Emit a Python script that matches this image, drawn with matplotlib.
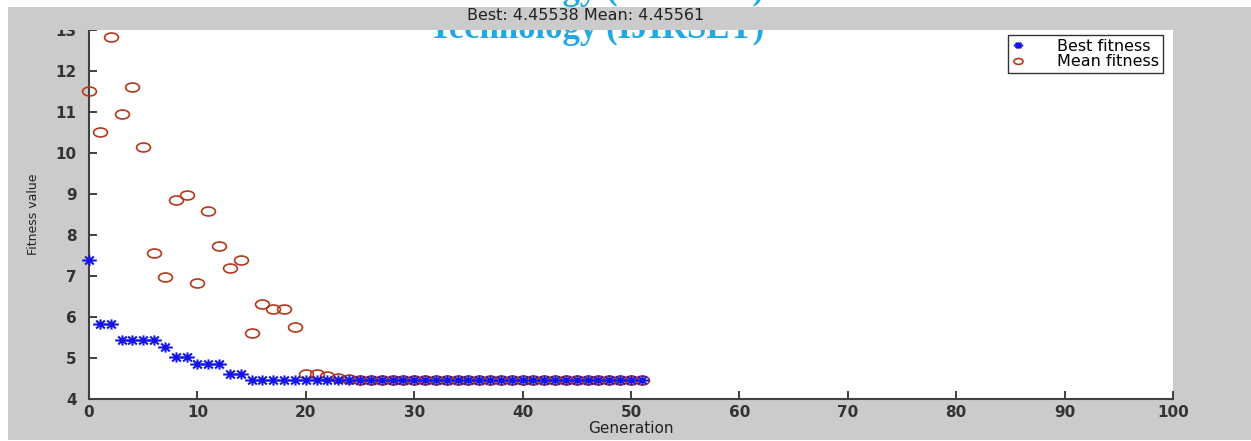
import matplotlib
matplotlib.use("Agg")
import matplotlib.pyplot as plt
from matplotlib.patches import Rectangle
from matplotlib.path import Path
from matplotlib.transforms import Affine2D
import numpy as np

# GA run: best and mean fitness per generation
generations = np.arange(52)
best_fitness = [
    7.38, 5.82, 5.82, 5.44, 5.44, 5.44, 5.43, 5.28, 5.02, 5.02,
    4.85, 4.85, 4.85, 4.62, 4.62, 4.47, 4.47, 4.47, 4.47, 4.47,
    4.47, 4.47, 4.46, 4.46, 4.46, 4.46, 4.46, 4.46, 4.46, 4.46,
    4.46, 4.46, 4.46, 4.46, 4.46, 4.46, 4.46, 4.46, 4.46, 4.46,
    4.46, 4.456, 4.456, 4.456, 4.456, 4.456, 4.456, 4.456, 4.456, 4.455,
    4.455, 4.455,
]
mean_fitness = [
    11.52, 10.51, 12.82, 10.94, 11.62, 10.14, 7.57, 6.97, 8.85, 8.98,
    6.82, 8.58, 7.73, 7.20, 7.40, 5.61, 6.32, 6.20, 6.20, 5.75,
    4.62, 4.60, 4.56, 4.52, 4.48, 4.47, 4.47, 4.47, 4.47, 4.47,
    4.47, 4.47, 4.47, 4.47, 4.47, 4.47, 4.47, 4.47, 4.47, 4.47,
    4.47, 4.46, 4.46, 4.46, 4.46, 4.46, 4.46, 4.46, 4.46, 4.456,
    4.456, 4.456,
]
title_text = "Best: 4.45538 Mean: 4.45561"
watermark = "Technology (IJIRSET)"

GREY = "#cbcbcb"
W, H = 1251, 441

plt.rcParams["font.family"] = ["DejaVu Sans"]
fig = plt.figure(figsize=(W / 100, H / 100), dpi=100, facecolor="white")

# matlab-style grey figure area
fig.patches.append(Rectangle((8 / W, 1 - 440 / H), 1 - 8 / W, (440 - 7) / H,
                             transform=fig.transFigure, facecolor=GREY,
                             edgecolor="none", zorder=-10))

ax = fig.add_axes([89 / W, 1 - 399 / H, (1173 - 89) / W, (399 - 30) / H])
ax.set_facecolor("white")

# markers stretched horizontally like the scanned image
circle = Path.unit_circle().transformed(Affine2D().scale(1.55, 1.0))
star = Path([(-1, 0), (1, 0), (0, -0.7), (0, 0.7),
             (-0.6, -0.55), (0.6, 0.55), (-0.6, 0.55), (0.6, -0.55)],
            [Path.MOVETO, Path.LINETO] * 4)
ax.plot(generations, mean_fitness, linestyle="none", marker=circle,
        markersize=10, markerfacecolor="none", markeredgecolor="#b5361c",
        markeredgewidth=1.2, label="Mean fitness", zorder=3, clip_on=False)
ax.plot(generations, best_fitness, linestyle="none", marker=star,
        markersize=10.5, markeredgecolor="#1414e6", markeredgewidth=1.5,
        label="Best fitness", zorder=4, clip_on=False)

ax.set_xlim(0, 100)
ax.set_ylim(4, 13)
ax.set_xticks(np.arange(0, 101, 10))
ax.set_yticks(np.arange(4, 14, 1))
ax.tick_params(direction="in", length=6, width=1.3, colors="#303030",
               labelsize=11, pad=4)
ax.tick_params(axis="y", pad=9)
for lab in ax.get_xticklabels() + ax.get_yticklabels():
    lab.set_fontweight("bold")
    lab.set_color("#333333")
for side in ("top", "right"):
    ax.spines[side].set_visible(False)
for side in ("left", "bottom"):
    ax.spines[side].set_color("#404040")
    ax.spines[side].set_linewidth(1.5)

ax.set_xlabel("Generation", fontsize=11, color="#222222", labelpad=1)
ax.set_ylabel("Fitness value", fontsize=9, color="#222222", labelpad=11)

handles, labels = ax.get_legend_handles_labels()
leg = ax.legend(handles[::-1], labels[::-1], loc="upper right",
                bbox_to_anchor=(0.9908, 0.9864), borderaxespad=0,
                fontsize=11.5, frameon=True, fancybox=False,
                edgecolor="black", handletextpad=2.1, borderpad=0.25,
                labelspacing=0.02, handlelength=0.7, markerscale=0.65)
leg.get_frame().set_linewidth(1.0)

# watermark from the journal page, partly hidden behind the title band
wm_style = dict(family=["Liberation Serif", "DejaVu Serif"], fontweight="bold",
                fontsize=25, color="#22a8e2", ha="center", transform=fig.transFigure)
fig.text(597 / W, 1 + 1 / H, watermark, va="baseline", zorder=5, **wm_style)
fig.text(597 / W, 1 - 38 / H, watermark, va="baseline", zorder=5, **wm_style)
fig.patches.append(Rectangle((8 / W, 1 - 30 / H), 1 - 8 / W, 23 / H,
                             transform=fig.transFigure, facecolor=GREY,
                             edgecolor="none", zorder=6))
fig.text(586 / W, 1 - 16 / H, title_text, ha="center", va="center",
         fontsize=11.5, color="#222222", zorder=7)

fig.savefig("out.png", dpi=100, facecolor=fig.get_facecolor())
